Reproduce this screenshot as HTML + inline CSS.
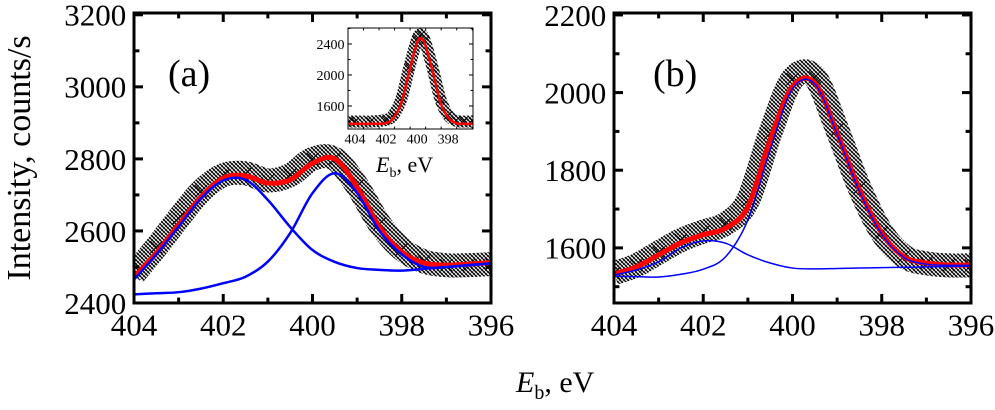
<!DOCTYPE html>
<html><head><meta charset="utf-8">
<style>
html,body{margin:0;padding:0;background:#fff;}
svg{display:block;}
text{font-family:"Liberation Serif","Times New Roman",serif;}
</style></head>
<body>
<svg id="chart" width="995" height="410" viewBox="0 0 995 410" font-family="Liberation Serif, serif">
<defs>
<pattern id="hatch" width="4" height="4" patternUnits="userSpaceOnUse">
<path d="M-1,-1 L5,5 M3,-1 L5,1 M-1,3 L1,5" stroke="#000" stroke-width="1.3"/>
<path d="M4,0 L0,4" stroke="#000" stroke-width="0.6"/>
</pattern>
</defs>
<text x="30" y="158" font-size="34" font-family="Liberation Serif, serif" text-anchor="middle" transform="rotate(-90 30 158)">Intensity, counts/s</text>
<text x="516" y="392" font-size="30" font-family="Liberation Serif, serif"><tspan font-style="italic">E</tspan><tspan font-size="20" dy="7">b</tspan><tspan dy="-7">, eV</tspan></text>
<g id="pa"></g>
<g id="pb"></g>
<g id="pi"></g>
</svg>
<script>
const xs = [404,403.5,403,402.5,402,401.5,401,400.5,400,399.5,399,398.5,398,397.5,397,396.5,396];
// Panel (a)
const aData  = [2480,2555,2635,2710,2755,2760,2740,2755,2800,2800,2725,2620,2550,2515,2505,2505,2508];
const aTotal = [2472,2539,2617,2694,2747,2753,2733,2742,2788,2800,2722,2611,2542,2511,2505,2508,2512];
const aPeak1 = [2465,2535,2612,2690,2740,2742,2686,2611,2547,2514,2497,2492,2490,2495,2500,2505,2510];
const aPeak2 = [2424,2427,2430,2440,2455,2473,2515,2594,2705,2760,2705,2600,2535,2500,2500,2505,2510];
const aYTicks = [2400,2600,2800,3000,3200];
// Panel (b)
const bData  = [1535,1555,1588,1620,1642,1662,1722,1895,2035,2040,1905,1755,1640,1578,1560,1555,1555];
const bTotal = [1533,1551,1582,1613,1634,1651,1706,1879,2016,2025,1896,1750,1638,1577,1561,1556,1556];
const bPeak1 = [1527,1526,1525,1532,1545,1577,1672,1853,2010,2022,1893,1745,1635,1575,1558,1555,1555];
const bPeak2 = [1530,1543,1564,1600,1618,1612,1582,1561,1548,1546,1547,1548,1549,1550,1551,1552,1553];
const bYTicks = [1600,1800,2000,2200];
const xTicks = [404,402,400,398,396];
// Inset
const iXs   = [404.4,404,403,402,401.5,401,400.5,400,399.75,399.5,399,398.5,398,397.5,397,396.4];
const iFit  = [1370,1370,1370,1380,1450,1650,2050,2420,2470,2400,2050,1650,1450,1380,1370,1370];
const iData = [1400,1400,1400,1420,1490,1700,2100,2460,2520,2440,2090,1690,1480,1410,1400,1400];
const iYTicks = [1600,2000,2400];
const iXTicks = [404,402,400,398];

const NS="http://www.w3.org/2000/svg";
function mk(p,tag,at){const e=document.createElementNS(NS,tag);for(const k in at)e.setAttribute(k,at[k]);p.appendChild(e);return e;}
function lin(d0,d1,r0,r1){return v=>r0+(v-d0)/(d1-d0)*(r1-r0);}
function smooth(pts){let d=`M${pts[0][0]},${pts[0][1]}`;for(let i=0;i<pts.length-1;i++){const p0=pts[Math.max(0,i-1)],p1=pts[i],p2=pts[i+1],p3=pts[Math.min(pts.length-1,i+2)];d+=` C${p1[0]+(p2[0]-p0[0])/6},${p1[1]+(p2[1]-p0[1])/6} ${p2[0]-(p3[0]-p1[0])/6},${p2[1]-(p3[1]-p1[1])/6} ${p2[0]},${p2[1]}`;}return d;}
const FF="Liberation Serif, serif";

function panel(g,o){
  const X=lin(o.x0,o.x1,o.L,o.R),Y=lin(o.y0,o.y1,o.B,o.T);
  const clip=mk(g,'clipPath',{id:o.id+'clip'});mk(clip,'rect',{x:o.L,y:o.T,width:o.R-o.L,height:o.B-o.T});
  const pl=mk(g,'g',{'clip-path':`url(#${o.id}clip)`});
  const dpts=o.dx.map((x,i)=>[X(x),Y(o.data[i])]);
  const band=mk(pl,'path',{d:smooth(dpts),fill:'none',stroke:'url(#hatch)','stroke-width':o.band});
  
  
  dpts.forEach(p=>{const m=mk(pl,'path',{d:`M${p[0]-o.ms},${p[1]-o.ms}L${p[0]+o.ms},${p[1]+o.ms}M${p[0]+o.ms},${p[1]-o.ms}L${p[0]-o.ms},${p[1]+o.ms}`,stroke:'#000','stroke-width':1});
    
    });
  o.lines.forEach(l=>{const e=mk(pl,'path',{d:smooth(o.dx.map((x,i)=>[X(x),Y(l.v[i])])),fill:'none',stroke:l.c,'stroke-width':l.w});
    
    });
  const fr=mk(g,'rect',{x:o.L,y:o.T,width:o.R-o.L,height:o.B-o.T,fill:'none',stroke:'#000','stroke-width':o.fw});
  
  
  for(let v=o.x0;v>=o.x1-1e-9;v-=o.xminor){const x=X(v),len=o.tl*(Math.abs(v-Math.round(v/o.xmaj)*o.xmaj)<1e-6?1:0.6);
    mk(g,'line',{x1:x,x2:x,y1:o.B,y2:o.B-len,stroke:'#000','stroke-width':o.fw});mk(g,'line',{x1:x,x2:x,y1:o.T,y2:o.T+len,stroke:'#000','stroke-width':o.fw});}
  for(let v=Math.ceil(o.y0/o.yminor)*o.yminor;v<=o.y1;v+=o.yminor){const y=Y(v),len=o.tl*(o.yt.includes(v)?1:0.6);
    mk(g,'line',{x1:o.L,x2:o.L+len,y1:y,y2:y,stroke:'#000','stroke-width':o.fw});mk(g,'line',{x1:o.R,x2:o.R-len,y1:y,y2:y,stroke:'#000','stroke-width':o.fw});}
  o.xt.forEach(v=>{const t=mk(g,'text',{x:X(v),y:o.B+o.fs*1.05,'font-size':o.fs,'font-family':FF,'text-anchor':'middle'});t.textContent=v;
    
    });
  o.yt.forEach(v=>{const t=mk(g,'text',{x:o.L-o.fs*0.25,y:Y(v)+o.fs*0.35,'font-size':o.fs,'font-family':FF,'text-anchor':'end'});t.textContent=v;
    
    });
}
panel(document.getElementById('pa'),{id:'a',L:134,R:491,T:13,B:303,x0:404,x1:396,y0:2400,y1:3205,dx:xs,data:aData,band:24,ms:6,fw:3,tl:9,fs:31,
  xminor:1,xmaj:2,yminor:100,yt:aYTicks,xt:xTicks,
  lines:[{v:aTotal,c:'#ff0000',w:5,n:'fit-total-a'},{v:aPeak1,c:'#0000ff',w:2.5,n:'component-402-a'},{v:aPeak2,c:'#0000ff',w:2.5,n:'component-400-a'}]});
panel(document.getElementById('pb'),{id:'b',L:614,R:971,T:13,B:303,x0:404,x1:396,y0:1458,y1:2205,dx:xs,data:bData,band:24,ms:6,fw:3,tl:9,fs:31,
  xminor:1,xmaj:2,yminor:100,yt:bYTicks,xt:xTicks,
  lines:[{v:bTotal,c:'#ff0000',w:5,n:'fit-total-b'},{v:bPeak1,c:'#0000ff',w:1.5,n:'component-400-b'},{v:bPeak2,c:'#0000ff',w:1.5,n:'component-402-b'}]});
panel(document.getElementById('pi'),{id:'i',L:348,R:473,T:28,B:129,x0:404.45,x1:396.4,y0:1303,y1:2606,dx:iXs,data:iData,band:12,ms:4,fw:1,tl:4,fs:14,
  xminor:1,xmaj:2,yminor:200,yt:iYTicks,xt:iXTicks,
  lines:[{v:iFit,c:'#ff0000',w:2.5,n:'fit-inset'}]});
const ta=mk(document.getElementById('chart'),'text',{x:168,y:86,'font-size':38,'font-family':FF});ta.textContent='(a)';


const tb=mk(document.getElementById('chart'),'text',{x:653,y:86,'font-size':38,'font-family':FF});tb.textContent='(b)';


const ie=mk(document.getElementById('chart'),'text',{x:376,y:172,'font-size':22,'font-family':FF});
ie.innerHTML='<tspan font-style="italic">E</tspan><tspan font-size="14" dy="5">b</tspan><tspan dy="-5">, eV</tspan>';


</script>
</body></html>
